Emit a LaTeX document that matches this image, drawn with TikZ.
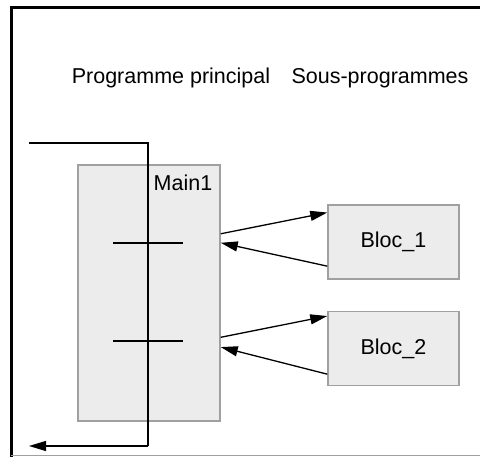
\documentclass[tikz,border=0pt]{standalone}
\usepackage{fontspec}
\setmainfont{Liberation Sans}
\usepackage{xcolor}
\definecolor{boxfill}{RGB}{236,236,236}
\definecolor{boxline}{RGB}{160,160,160}
\usetikzlibrary{arrows.meta, positioning, calc}

\begin{document}
\begin{tikzpicture}[
  x=1pt, y=-1pt,
  font=\fontsize{21.5}{25}\selectfont,
  prog/.style={rectangle, fill=boxfill, draw=boxline, line width=1.5pt, inner sep=0pt},
  bloc/.style={prog, minimum width=131pt, minimum height=74pt},
  arr/.style={-{Triangle[length=17pt, width=10pt]}, line width=1.3pt},
  flow/.style={line width=1.6pt}
]
\useasboundingbox (0,0) rectangle (480,457);
\draw[line width=3pt] (11,457) -- (11,8) -- (480,8);
\draw[boxline, line width=1pt] (11,456) -- (480,456);

\node[anchor=base] (titlemain) at (171,84) {Programme principal};
\node[anchor=base] (titlesub)  at (380,84) {Sous-programmes};

\node[prog, minimum width=142pt, minimum height=256pt] (main) at (149,293) {};
\node[inner sep=0pt] (main1) at (183,182.5) {Main1};
\node[bloc] (bloc1) at (393.5,242) {Bloc\_1};
\node[bloc] (bloc2) at (393.5,348.5) {Bloc\_2};

\coordinate (entry) at (29,143);
\coordinate (corner1) at (148,143);
\coordinate (corner2) at (148,446);
\coordinate (exit) at (29,446);
\draw[flow] (entry) -- (corner1) -- (corner2);
\draw[arr] (corner2) -- (exit);

\coordinate (step1w) at (113,243);
\coordinate (step1e) at (183,243);
\coordinate (step2w) at (113,341);
\coordinate (step2e) at (183,341);
\draw[flow] (step1w) -- (step1e);
\draw[flow] (step2w) -- (step2e);

\draw[arr] ($(main.north east)!0.27!(main.south east)$)  -- ($(bloc1.north west)!0.11!(bloc1.south west)$);
\draw[arr] ($(bloc1.north west)!0.82!(bloc1.south west)$) -- ($(main.north east)!0.305!(main.south east)$);
\draw[arr] ($(main.north east)!0.672!(main.south east)$) -- ($(bloc2.north west)!0.07!(bloc2.south west)$);
\draw[arr] ($(bloc2.north west)!0.84!(bloc2.south west)$) -- ($(main.north east)!0.71!(main.south east)$);
\end{tikzpicture}
\end{document}
